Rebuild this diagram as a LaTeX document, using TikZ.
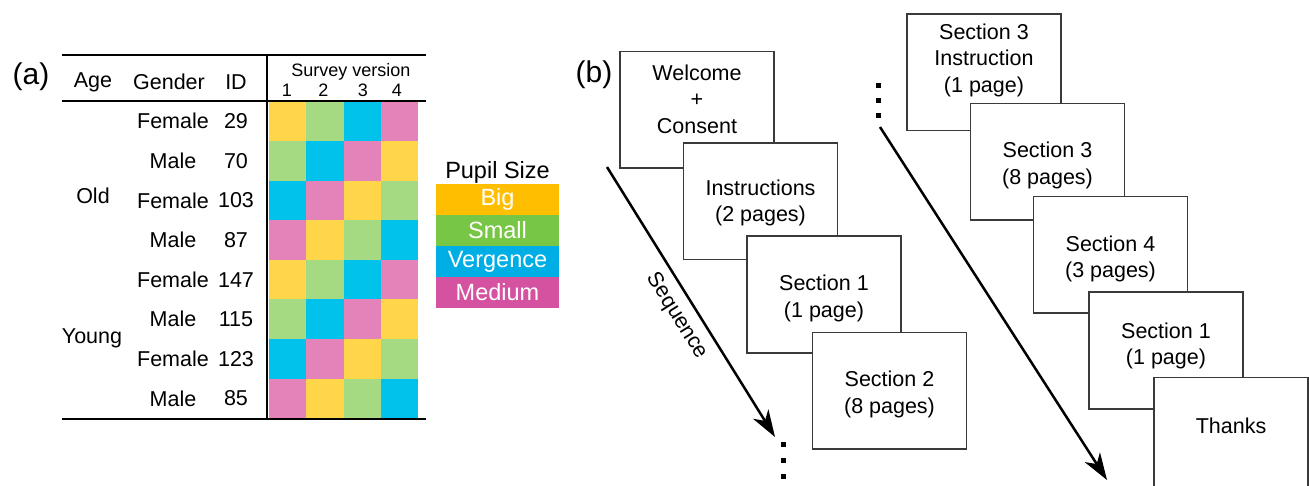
\documentclass[tikz,border=0pt]{standalone}
\usepackage{fontspec}
\setmainfont{Liberation Sans}
\usetikzlibrary{arrows.meta,calc}

% cell colours of the design table
\definecolor{cY}{HTML}{FFD54A}
\definecolor{cG}{HTML}{A5D982}
\definecolor{cB}{HTML}{00C2EA}
\definecolor{cP}{HTML}{E483BA}
% legend colours
\definecolor{lBig}{HTML}{FFBE00}
\definecolor{lSmall}{HTML}{77C646}
\definecolor{lVerg}{HTML}{00AEE6}
\definecolor{lMed}{HTML}{D452A0}
\definecolor{frame}{HTML}{3A3A3A}

\begin{document}
\begin{tikzpicture}[x=1pt,y=-1pt,
  txt/.style={font=\fontsize{21.5}{26.5}\selectfont, inner sep=0pt, align=center},
  small/.style={font=\fontsize{18}{20}\selectfont, inner sep=0pt},
  panel/.style={font=\fontsize{30}{34}\selectfont, inner sep=0pt},
  rule/.style={line width=2.5pt, black},
  legbox/.style={fill=#1, minimum width=123pt, minimum height=31pt, inner sep=0pt,
                 text=white, font=\fontsize{23.5}{26}\selectfont},
  page/.style={draw=frame, line width=1.5pt, fill=white, minimum width=154pt,
               minimum height=116.5pt, inner sep=0pt},
  seq/.style={line width=2.5pt, -{Stealth[length=27pt,width=18pt,inset=8pt]}},
  dot/.style={fill=black, minimum size=5pt, inner sep=0pt}
]
\clip (0,0) rectangle (1309,486);

% ---------------- (a) design table ----------------
\node[panel] (la) at (31,77) {(a)};

\foreach \r/\a/\b/\c/\d in {1/cY/cG/cB/cP, 2/cG/cB/cP/cY, 3/cB/cP/cY/cG, 4/cP/cY/cG/cB,
                            5/cY/cG/cB/cP, 6/cG/cB/cP/cY, 7/cB/cP/cY/cG, 8/cP/cY/cG/cB}{
  \foreach \k/\col in {0/\a,1/\b,2/\c,3/\d}{
    \fill[\col] ({269+37.25*\k},{101.5+39.6*(\r-1)}) rectangle ++(37.55,39.9);
  }
}

\draw[rule] (62,55) -- (426,55);
\draw[rule] (62,101) -- (426,101);
\draw[rule] (62,419) -- (426,419);
\draw[rule] (267,55) -- (267,419);

\node[txt] (hAge) at (93,82) {Age};
\node[txt] (hGender) at (169,82) {Gender};
\node[txt] (hID) at (236,82) {ID};
\node[small] (hSurvey) at (351,72) {Survey version};
\foreach \n/\xx in {1/287,2/323.5,3/363,4/397}{
  \node[small] (v\n) at (\xx,90) {\n};
}

\foreach \r/\g/\id in {1/Female/29, 2/Male/70, 3/Female/103, 4/Male/87,
                       5/Female/147, 6/Male/115, 7/Female/123, 8/Male/85}{
  \node[txt] (g\r) at (173,{101.5+39.6*(\r-0.5)}) {\g};
  \node[txt] (id\r) at (236,{101.5+39.6*(\r-0.5)}) {\id};
}
\node[txt] (old) at (93,196) {Old};
\node[txt] (young) at (92,338) {Young};

% legend
\node[font=\fontsize{23.5}{26}\selectfont, inner sep=0pt] (legT) at (497.5,172) {Pupil Size};
\node[legbox=lBig]   (big)   at (497.5,199.5) {Big};
\node[legbox=lSmall] (smll)  at (497.5,230.5) {Small};
\node[legbox=lVerg]  (verg)  at (497.5,261.5) {Vergence};
\node[legbox=lMed]   (med)   at (497.5,292.5) {Medium};

% ---------------- (b) page sequence ----------------
\node[panel] (lb) at (594,75) {(b)};

% first column of pages
\node[page] (p1) at (697,110) {};
\node[txt] (t1) at (697,99) {Welcome\\+\\Consent};
\node[page] (p2) at (760.5,201.5) {};
\node[txt] (t2) at (760.5,203) {Instructions\\(2 pages)};
\node[page] (p3) at (824,294.5) {};
\node[txt] (t3) at (824,298.5) {Section 1\\(1 page)};
\node[page] (p4) at (889.5,390.5) {};
\node[txt] (t4) at (889.5,394.5) {Section 2\\(8 pages)};

% second column of pages
\node[page] (p5) at (984,72.5) {};
\node[txt] (t5) at (984,60) {Section 3\\Instruction\\(1 page)};
\node[page] (p6) at (1047.5,162) {};
\node[txt] (t6) at (1047.5,165.5) {Section 3\\(8 pages)};
\node[page] (p7) at (1110.5,255) {};
\node[txt] (t7) at (1110.5,258.7) {Section 4\\(3 pages)};
\node[page] (p8) at (1166,350.5) {};
\node[txt] (t8) at (1166,346) {Section 1\\(1 page)};
\node[page] (p9) at (1231,435.5) {};
\node[txt] (t9) at (1231,426) {Thanks};

% sequence arrows
\coordinate (s1) at (607,167);
\coordinate (e1) at (775,437);
\draw[seq] (s1) -- (e1);
\node[txt, rotate=-58] (seqlab) at (677,316) {Sequence};
\coordinate (s2) at (880,127);
\coordinate (e2) at (1107,480);
\draw[seq] (s2) -- (e2);

% continuation dots
\foreach \i/\yy in {1/444,2/460,3/476}{ \node[dot] (da\i) at (783,\yy) {}; }
\foreach \i/\yy in {1/86,2/101,3/116}{ \node[dot] (db\i) at (878,\yy) {}; }

\end{tikzpicture}
\end{document}
